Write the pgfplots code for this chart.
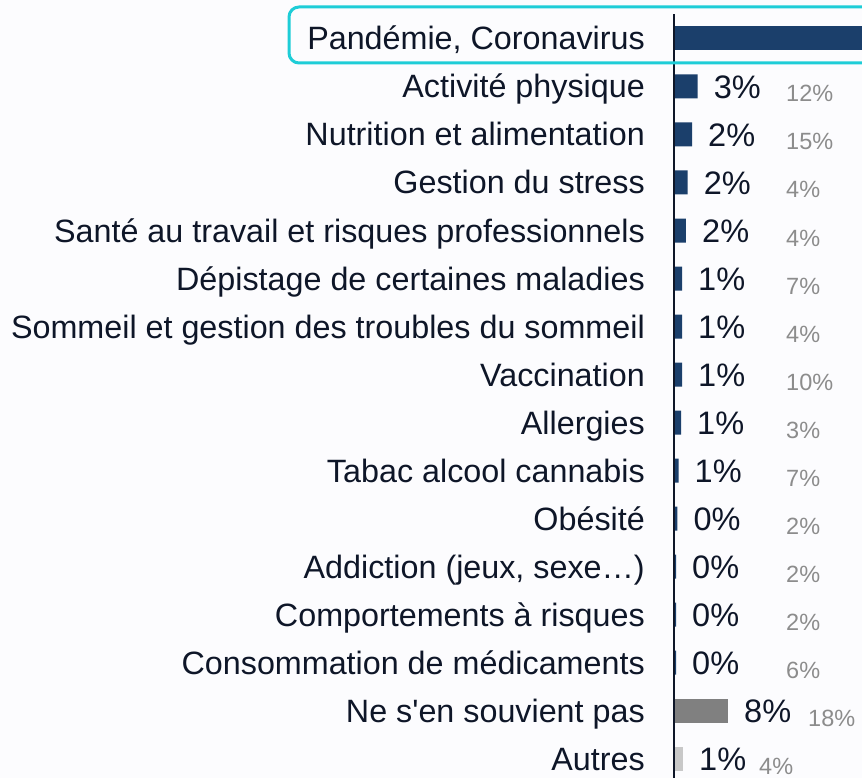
\documentclass[border=0pt]{standalone}
\usepackage{fontspec}
\setmainfont{Liberation Sans}
\usepackage{pgfplots}
\pgfplotsset{compat=1.18}
\definecolor{barnavy}{RGB}{27,63,107}
\definecolor{txtnavy}{RGB}{14,22,40}
\definecolor{cmpgray}{RGB}{140,140,140}
\definecolor{bargray}{RGB}{128,128,128}
\definecolor{barlight}{RGB}{200,200,200}
\definecolor{hilite}{RGB}{30,205,215}
\definecolor{pagebg}{RGB}{252,252,254}

\begin{document}
\begin{tikzpicture}
\path[use as bounding box] (0,0) rectangle (862pt,778pt);
\clip (0,0) rectangle (862pt,778pt);
\fill[pagebg] (0,0) rectangle (862pt,778pt);
\begin{axis}[
  at={(675pt,0pt)}, anchor=south west,
  scale only axis, width=187pt, height=778pt,
  xmin=0, xmax=26.71,
  ymin=-0.802, ymax=15.406, y dir=reverse,
  clip=false,
  hide x axis,
  axis y line*=left, y axis line style={draw=none},
  ytick={0,...,15}, major tick length=0pt,
  yticklabels={{Pandémie, Coronavirus},Activité physique,Nutrition et alimentation,
    Gestion du stress,Santé au travail et risques professionnels,
    Dépistage de certaines maladies,Sommeil et gestion des troubles du sommeil,
    Vaccination,Allergies,Tabac alcool cannabis,Obésité,{Addiction (jeux, sexe…)},
    Comportements à risques,Consommation de médicaments,
    Ne s\textquotesingle en souvient pas,Autres},
  yticklabel style={font=\fontsize{32.3}{32}\selectfont, text=txtnavy, anchor=east,
    inner sep=0pt, xshift=-30pt, text height=23pt, text depth=0pt},
  point meta=explicit symbolic,
  every node near coord/.style={anchor=west, inner sep=0pt, xshift=16pt,
    text=txtnavy, font=\fontsize{32.5}{32}\selectfont, text height=23.3pt, text depth=0pt},
]
% Pandemie bar (runs past the frame)
\addplot[xbar, bar width=24pt, bar shift=0pt, fill=barnavy, draw=none]
  coordinates {(75,0)};
% theme bars, current wave
\addplot[xbar, bar width=24pt, bar shift=0pt, fill=barnavy, draw=none, nodes near coords]
  coordinates {
  (3.24,1) [3\%]
  (2.43,2) [2\%]
  (1.81,3) [2\%]
  (1.57,4) [2\%]
  (1.0,5) [1\%]
  (1.0,6) [1\%]
  (1.0,7) [1\%]
  (0.86,8) [1\%]
  (0.5,9) [1\%]
  (0.35,10) [0\%]
  (0.15,11) [0\%]
  (0.15,12) [0\%]
  (0.15,13) [0\%]
};
\addplot[xbar, bar width=24pt, bar shift=0pt, fill=bargray, draw=none, nodes near coords]
  coordinates {(7.57,14) [8\%]};
\addplot[xbar, bar width=24pt, bar shift=0pt, fill=barlight, draw=none, nodes near coords]
  coordinates {(1.14,15) [1\%]};
% comparison values in gray
\addplot[draw=none, mark=none, nodes near coords,
  every node near coord/.style={anchor=west, inner sep=0pt, yshift=-7pt,
    text=cmpgray, font=\fontsize{23.5}{24}\selectfont, text height=17pt, text depth=0pt}]
  coordinates {
  (15.86,1) [12\%]
  (15.86,2) [15\%]
  (15.86,3) [4\%]
  (15.86,4) [4\%]
  (15.86,5) [7\%]
  (15.86,6) [4\%]
  (15.86,7) [10\%]
  (15.86,8) [3\%]
  (15.86,9) [7\%]
  (15.86,10) [2\%]
  (15.86,11) [2\%]
  (15.86,12) [2\%]
  (15.86,13) [6\%]
  (19.0,14) [18\%]
  (12.0,15) [4\%]
};
\draw[txtnavy, line width=2pt] ([xshift=-1pt]axis cs:0,-0.5) -- ([xshift=-1pt]axis cs:0,15.406);
\end{axis}
\draw[hilite, line width=3pt, rounded corners=10pt] (289pt,715pt) rectangle (880pt,771pt);
\end{tikzpicture}
\end{document}
